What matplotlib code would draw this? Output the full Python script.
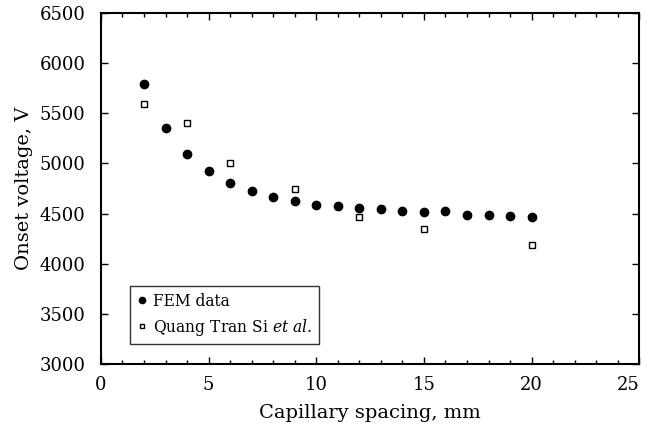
import matplotlib
matplotlib.use('Agg')
from matplotlib import pyplot as plt

# FEM data (capillary spacing in mm, onset voltage in V)
fem_x = [2, 3, 4, 5, 6, 7, 8, 9, 10, 11, 12, 13, 14, 15, 16, 17, 18, 19, 20]
fem_v = [5790, 5352, 5095, 4921, 4803, 4724, 4665, 4621, 4589, 4576, 4556,
         4542, 4530, 4520, 4523, 4487, 4483, 4477, 4470]

# Quang Tran Si et al.
qts_x = [2, 4, 6, 9, 12, 15, 20]
qts_v = [5590, 5401, 5003, 4750, 4470, 4345, 4191]

x_ticks = [0, 5, 10, 15, 20, 25]
y_ticks = [3000, 3500, 4000, 4500, 5000, 5500, 6000, 6500]

plt.rcParams['font.family'] = ['DejaVu Serif']
plt.rcParams['mathtext.fontset'] = 'custom'
plt.rcParams['mathtext.rm'] = 'DejaVu Serif'
plt.rcParams['mathtext.it'] = 'DejaVu Serif:italic'

fig = plt.figure(dpi=100, figsize=(6.47, 4.40))
ax = fig.add_axes([0.156, 0.173, 0.832, 0.797])

ax.plot(fem_x, fem_v, 'o', color='black', markersize=6, label='FEM data')
ax.plot(qts_x, qts_v, 's', mfc='white', mec='black', mew=1.0, markersize=4.5,
        label=r'Quang Tran Si $\it{et\ al.}$')

ax.set_xlim(0, 25)
ax.set_ylim(3000, 6500)
ax.set_xticks(x_ticks, [str(t) for t in x_ticks])
ax.set_xticks(range(0, 26), minor=True)
ax.set_yticks(y_ticks, [str(t) for t in y_ticks])

ax.tick_params(axis='both', which='both', direction='in', top=True, right=True,
               labelsize=13, width=1.0)
ax.tick_params(which='major', length=5)
ax.tick_params(which='minor', length=3)
ax.tick_params(axis='x', pad=9)
ax.tick_params(axis='y', pad=11)
for s in ax.spines.values():
    s.set_linewidth(1.5)

# last x label sits inside the figure edge, as in the original
ax.get_xticklabels()[-1].set_horizontalalignment('right')

ax.set_xlabel('Capillary spacing, mm', fontsize=14, labelpad=7)
ax.set_ylabel('Onset voltage, V', fontsize=14, labelpad=5)

leg = ax.legend(loc='lower left', bbox_to_anchor=(0.054, 0.057), borderaxespad=0,
                fontsize=11.2, frameon=True, fancybox=False, edgecolor='black',
                handlelength=0.8, handletextpad=0.3, borderpad=0.4,
                labelspacing=0.45, markerscale=0.75)
leg.get_frame().set_linewidth(1.0)

fig.savefig('out.png', dpi=100)
